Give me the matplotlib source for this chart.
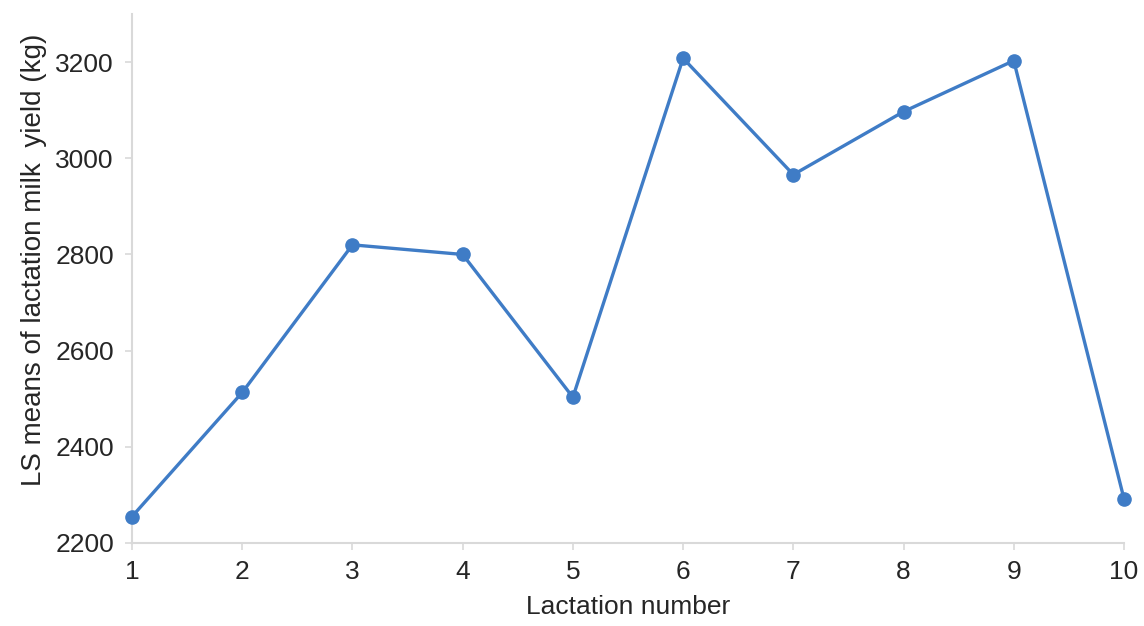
import matplotlib
matplotlib.use("Agg")
import matplotlib.pyplot as plt

# valores
lactation = [1, 2, 3, 4, 5, 6, 7, 8, 9, 10]
milk_yield = [2255, 2513, 2820, 2800, 2503, 3208, 2966, 3097, 3203, 2292]
y_ticks = [2200, 2400, 2600, 2800, 3000, 3200]

plt.rcParams['font.family'] = ['Liberation Sans', 'DejaVu Sans']

fig = plt.figure(figsize=(11.44, 6.26), dpi=100)
ax = fig.add_axes([0.1154, 0.1326, 0.8671, 0.845])

ax.plot(lactation, milk_yield, color='#3f7cc6', linewidth=2.4,
        marker='o', markersize=9.5, clip_on=False, zorder=3)

ax.set_xlim(1, 10)
ax.set_ylim(2200, 3300)
ax.set_xticks(lactation)
ax.set_yticks(y_ticks)

for s in ['top', 'right']:
    ax.spines[s].set_visible(False)
for s in ['left', 'bottom']:
    ax.spines[s].set_color('#d9d9d9')
    ax.spines[s].set_linewidth(1.5)

ax.tick_params(axis='both', colors='#d9d9d9', labelcolor='#262626',
               labelsize=19, length=5, width=1.2, direction='out')
ax.tick_params(axis='x', pad=7)
ax.tick_params(axis='y', pad=8)

ax.set_xlabel('Lactation number', fontsize=19, color='#262626', labelpad=8)
ax.set_ylabel('LS means of lactation milk  yield (kg)', fontsize=20,
              color='#262626')
# etiqueta del eje y un poco mas arriba, como en el original
ax.yaxis.set_label_coords(-0.086, 0.535)

fig.savefig('out.png', dpi=100)
